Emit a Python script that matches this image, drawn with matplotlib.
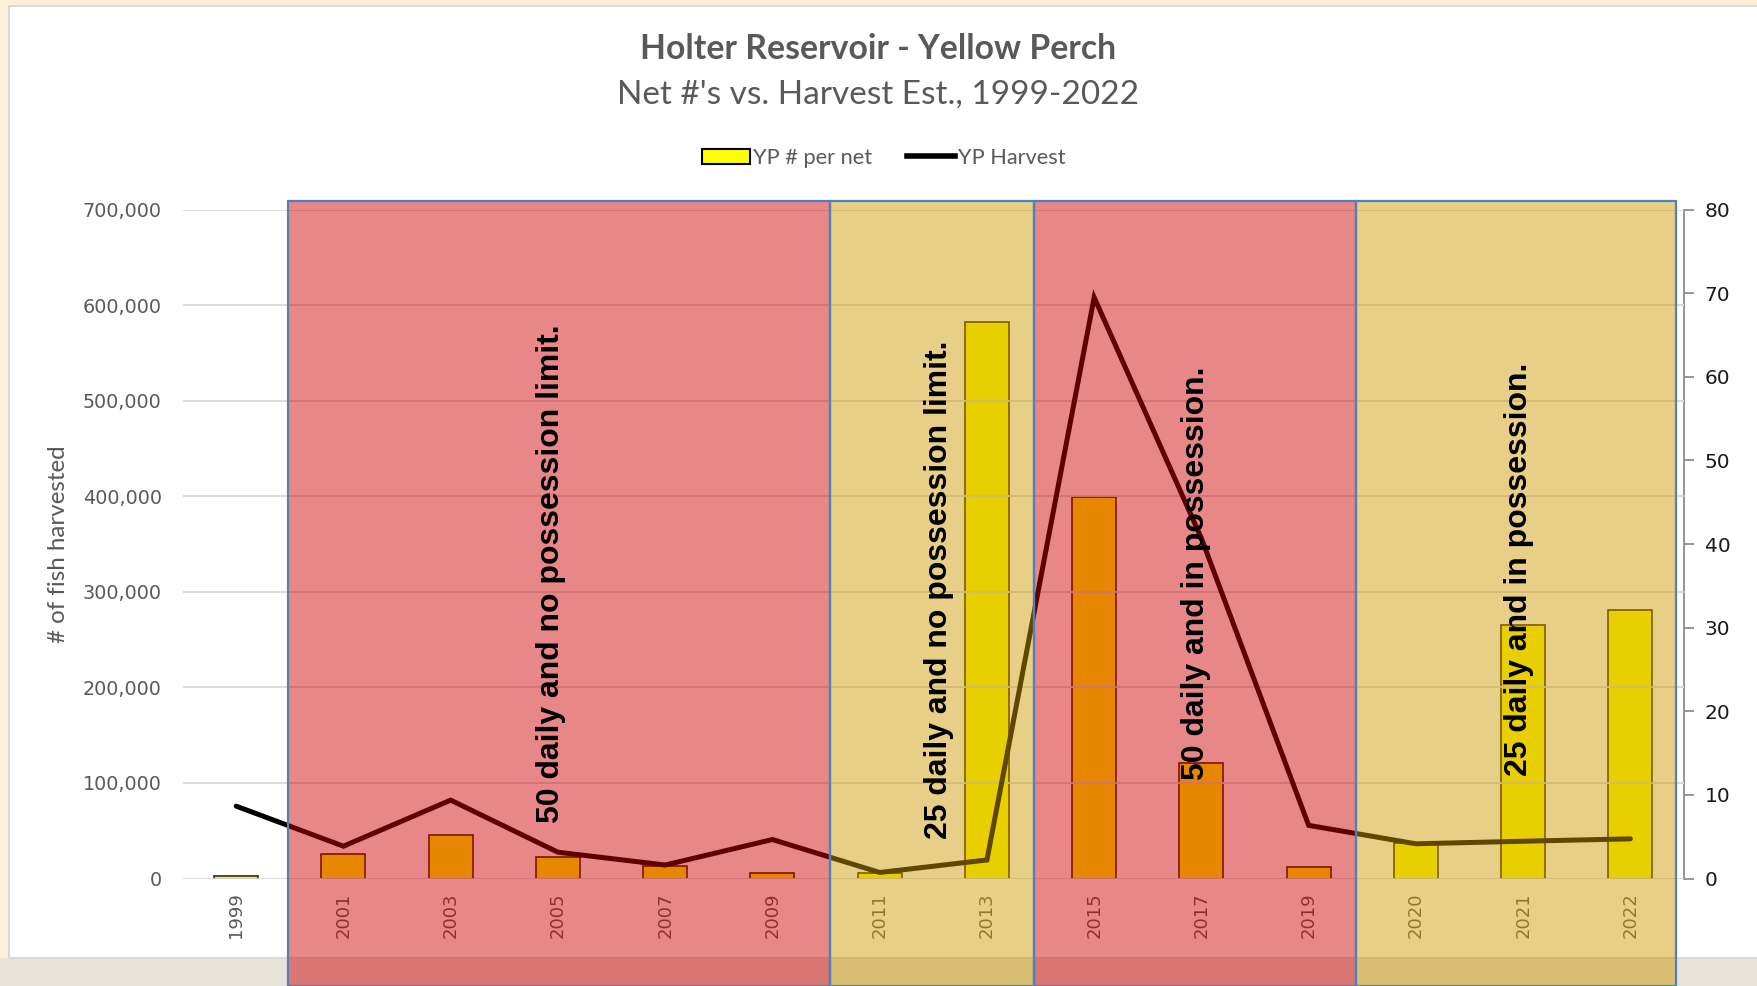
import numpy as np
import matplotlib.pyplot as plt
from matplotlib.patches import Rectangle, Patch
from matplotlib.lines import Line2D
import matplotlib.transforms as mtransforms

# data
years = ['1999', '2001', '2003', '2005', '2007', '2009', '2011', '2013',
         '2015', '2017', '2019', '2020', '2021', '2022']
per_net = [0.25, 2.9, 5.15, 2.6, 1.45, 0.6, 0.6, 66.6, 45.6, 13.8, 1.4, 4.3, 30.3, 32.1]
harvest = [75700, 33800, 82000, 27500, 14100, 40800, 6300, 19400,
           608000, 356000, 55600, 36300, 39000, 41500]

# regulation periods: (left edge, right edge in category units, label, colour)
periods = [(0.48, 5.54, '50 daily and no possession limit.', 'red'),
           (5.54, 7.44, '25 daily and no possession limit.', 'yellow'),
           (7.44, 10.44, '50 daily and in possession.', 'red'),
           (10.44, 13.43, '25 daily and in possession.', 'yellow')]

W, H = 1757, 986
fig = plt.figure(figsize=(W/100, H/100), dpi=100, facecolor='#FDF0DA')

# white chart frame + grey strip at bottom (screenshot look)
fig.add_artist(Rectangle((0, 0), 1, 28/H, transform=fig.transFigure,
                         facecolor='#E8E2D8', edgecolor='none', zorder=-3))
fig.add_artist(Rectangle((9/W, 28/H), 1.0, 1 - 34/H, transform=fig.transFigure,
                         facecolor='white', edgecolor='#D9D9D9', lw=1.5, zorder=-2))

L, R, T, B = 182.6, 1684.0, 209.5, 878.5
ax = fig.add_axes([L/W, 1-B/H, (R-L)/W, (B-T)/H])
ax2 = ax.twinx()
ax.set_zorder(ax2.get_zorder() + 1)
ax.patch.set_visible(False)
ax2.patch.set_visible(False)

x = np.arange(len(years))

ax2.bar(x, per_net, width=0.41, color='#FFFF00', edgecolor='#3A2A00', linewidth=1.2)
ax.plot(x, harvest, color='black', lw=3.6, solid_capstyle='round', solid_joinstyle='miter')

ax.set_xlim(-0.5, len(years) - 0.5)
ax.set_ylim(0, 700000)
ax2.set_ylim(0, 80)
ax.set_yticks(np.arange(0, 700001, 100000))
ax.set_yticklabels([f'{v:,}' for v in range(0, 700001, 100000)])
ax2.set_yticks(np.arange(0, 81, 10))

ax2.yaxis.grid(False)
ax.yaxis.grid(True, color='#D9D9D9', lw=1.3)
ax.set_axisbelow(True)
for a in (ax, ax2):
    for s in ('top', 'bottom', 'left'):
        a.spines[s].set_visible(False)
ax.spines['right'].set_visible(False)
ax2.spines['right'].set_color('#8C8C8C')
ax2.spines['right'].set_linewidth(1.3)

ax.set_xticks(x)
ax.set_xticklabels(years, rotation=90, fontsize=13, color='#595959', family='DejaVu Sans')
ax.tick_params(axis='x', length=0, pad=10)
ax.tick_params(axis='y', length=0, labelsize=13.8, labelcolor='#595959', pad=15)
ax2.tick_params(axis='y', length=7, width=1.3, color='#8C8C8C', labelsize=14.5,
                labelcolor='#1A1A1A', pad=8)

ax.set_ylabel('# of fish harvested', family='Lato', fontsize=17.4, color='#595959', labelpad=10)

# shaded regulation periods drawn over the chart
trans = mtransforms.blended_transform_factory(ax.transData, fig.transFigure)
fills = {'red': '#CC0000', 'yellow': '#CC9900'}
top = 1 - 200.5/H
for x0, x1, label, c in periods:
    fig.add_artist(Rectangle((x0, 0), x1 - x0, top, transform=trans,
                             facecolor=fills[c], alpha=0.47, edgecolor='none', zorder=5))
    fig.add_artist(Rectangle((x0, 0), x1 - x0, top, transform=trans,
                             facecolor='none', edgecolor='#4F81BD', lw=1.6, zorder=5.5))

text_pos = [(2.936, 36.5), (6.55, 34.5), (8.954, 36.5), (11.963, 37.0)]
for (tx, ty), p in zip(text_pos, periods):
    fig.text(tx, ty, p[2], transform=ax2.transData, rotation=90, ha='center', va='center',
             fontsize=23, fontweight='bold', family='Liberation Sans', color='black', zorder=6)

fig.text(0.5, 1 - 49/H, 'Holter Reservoir - Yellow Perch', ha='center', va='center',
         family='Lato', fontweight='bold', fontsize=24.3, color='#595959')
fig.text(0.5, 1 - 95/H, "Net #'s vs. Harvest Est., 1999-2022", ha='center', va='center',
         family='Lato', fontsize=24, color='#595959')

handles = [Patch(facecolor='#FFFF00', edgecolor='black', lw=1.5),
           Line2D([0], [0], color='black', lw=4)]
fig.legend(handles, ['YP # per net', 'YP Harvest'], loc='center',
           bbox_to_anchor=(0.503, 1 - 158/H), ncol=2, frameon=False,
           prop={'family': 'Lato', 'size': 15.7}, labelcolor='#595959',
           handlelength=2.2, handletextpad=0.15, columnspacing=1.6)

fig.savefig('out.png', dpi=100, facecolor=fig.get_facecolor())
